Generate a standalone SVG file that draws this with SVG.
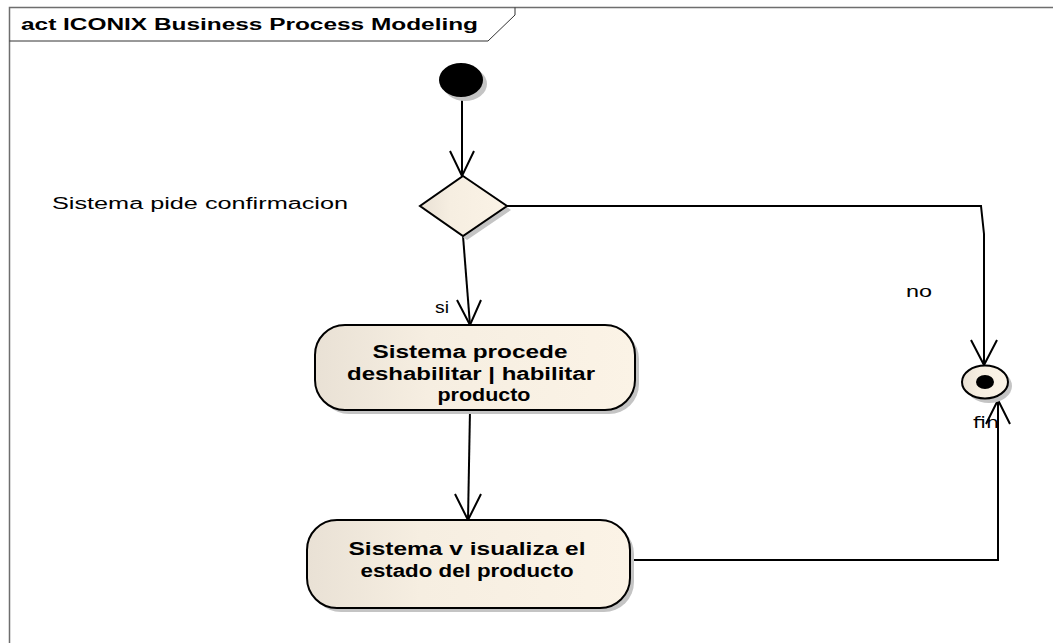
<svg xmlns="http://www.w3.org/2000/svg" width="1053" height="643" viewBox="0 0 1053 643">
<defs>
<linearGradient id="fillg" x1="0" y1="0" x2="1" y2="0">
<stop offset="0" stop-color="#e9e1d5"/>
<stop offset="0.35" stop-color="#f6eee1"/>
<stop offset="1" stop-color="#fbf3e6"/>
</linearGradient>
<style>
.frame{fill:none;stroke:#6e6e6e;stroke-width:1.5}
.tab{fill:none;stroke:#333;stroke-width:1}
.node{fill:url(#fillg);stroke:#000;stroke-width:2}
.shadow{fill:#c4c4c4}
.edge{fill:none;stroke:#000;stroke-width:2}
.title{font-family:"Liberation Sans",Arial,sans-serif;font-weight:bold;font-size:16px;fill:#000}
.act{font-family:"Liberation Sans",Arial,sans-serif;font-weight:bold;font-size:18px;fill:#000;text-anchor:middle}
.lbl{font-family:"Liberation Sans",Arial,sans-serif;font-size:16px;fill:#000}
.fin{font-family:"DejaVu Sans",sans-serif;font-size:16px;fill:#000}
</style>
</defs>
<rect width="1053" height="643" fill="#fff"/>
<g id="frame">
<path class="frame" d="M9.5,645 V7.5 H1060"/>
<path class="tab" d="M9.5,41 H488 L515,15 V7.5"/>
<text class="title" x="21" y="30" textLength="457" lengthAdjust="spacingAndGlyphs">act ICONIX Business Process Modeling</text>
</g>
<g id="connectors">
<path class="edge" d="M462,97 V176"/>
<path class="edge" d="M450,151 L462,176 L474,151"/>
<path class="edge" d="M507,206 H981 L984,234 V365"/>
<path class="edge" d="M971,340 L984,365 L997,340"/>
<path class="edge" d="M463,236 L470,325"/>
<path class="edge" d="M457,300 L470,325 L481,300"/>
<path class="edge" d="M470,410 L468,520"/>
<path class="edge" d="M455,494 L468,520 L481,494"/>
<path class="edge" d="M630,560 H998 V400"/>
<path class="edge" d="M986,424 L998,400 L1010,424"/>
<text class="lbl" x="435" y="313" textLength="14" lengthAdjust="spacingAndGlyphs">si</text>
<text class="lbl" x="906" y="297" textLength="26" lengthAdjust="spacingAndGlyphs">no</text>
</g>
<g id="start">
<ellipse class="shadow" cx="465" cy="84" rx="22" ry="17"/>
<ellipse cx="461" cy="80" rx="22" ry="17" fill="#000"/>
</g>
<g id="decision">
<polygon class="shadow" points="467,180 511,210 467,240 424,210"/>
<polygon class="node" points="463,176 507,206 463,236 420,206"/>
<text class="lbl" x="52" y="209" textLength="296" lengthAdjust="spacingAndGlyphs">Sistema pide confirmacion</text>
</g>
<g id="action1">
<rect class="shadow" x="319" y="329" width="320" height="85" rx="30"/>
<rect class="node" x="315" y="325" width="320" height="85" rx="30"/>
<text class="act" x="470" y="358" textLength="195" lengthAdjust="spacingAndGlyphs">Sistema procede</text>
<text class="act" x="471" y="380" textLength="248" lengthAdjust="spacingAndGlyphs">deshabilitar | habilitar</text>
<text class="act" x="484" y="401" textLength="93" lengthAdjust="spacingAndGlyphs">producto</text>
</g>
<g id="action2">
<rect class="shadow" x="311" y="524" width="323" height="88" rx="30"/>
<rect class="node" x="307" y="520" width="323" height="88" rx="30"/>
<text class="act" x="467" y="555" textLength="237" lengthAdjust="spacingAndGlyphs">Sistema v isualiza el</text>
<text class="act" x="467" y="577" textLength="213" lengthAdjust="spacingAndGlyphs">estado del producto</text>
</g>
<g id="end">
<ellipse class="shadow" cx="989" cy="386" rx="23" ry="17"/>
<ellipse class="node" cx="985" cy="382" rx="23" ry="16.5"/>
<ellipse cx="985" cy="382" rx="9" ry="7" fill="#000"/>
<text class="fin" x="973" y="428" textLength="26" lengthAdjust="spacingAndGlyphs">fin</text>
</g>
</svg>
